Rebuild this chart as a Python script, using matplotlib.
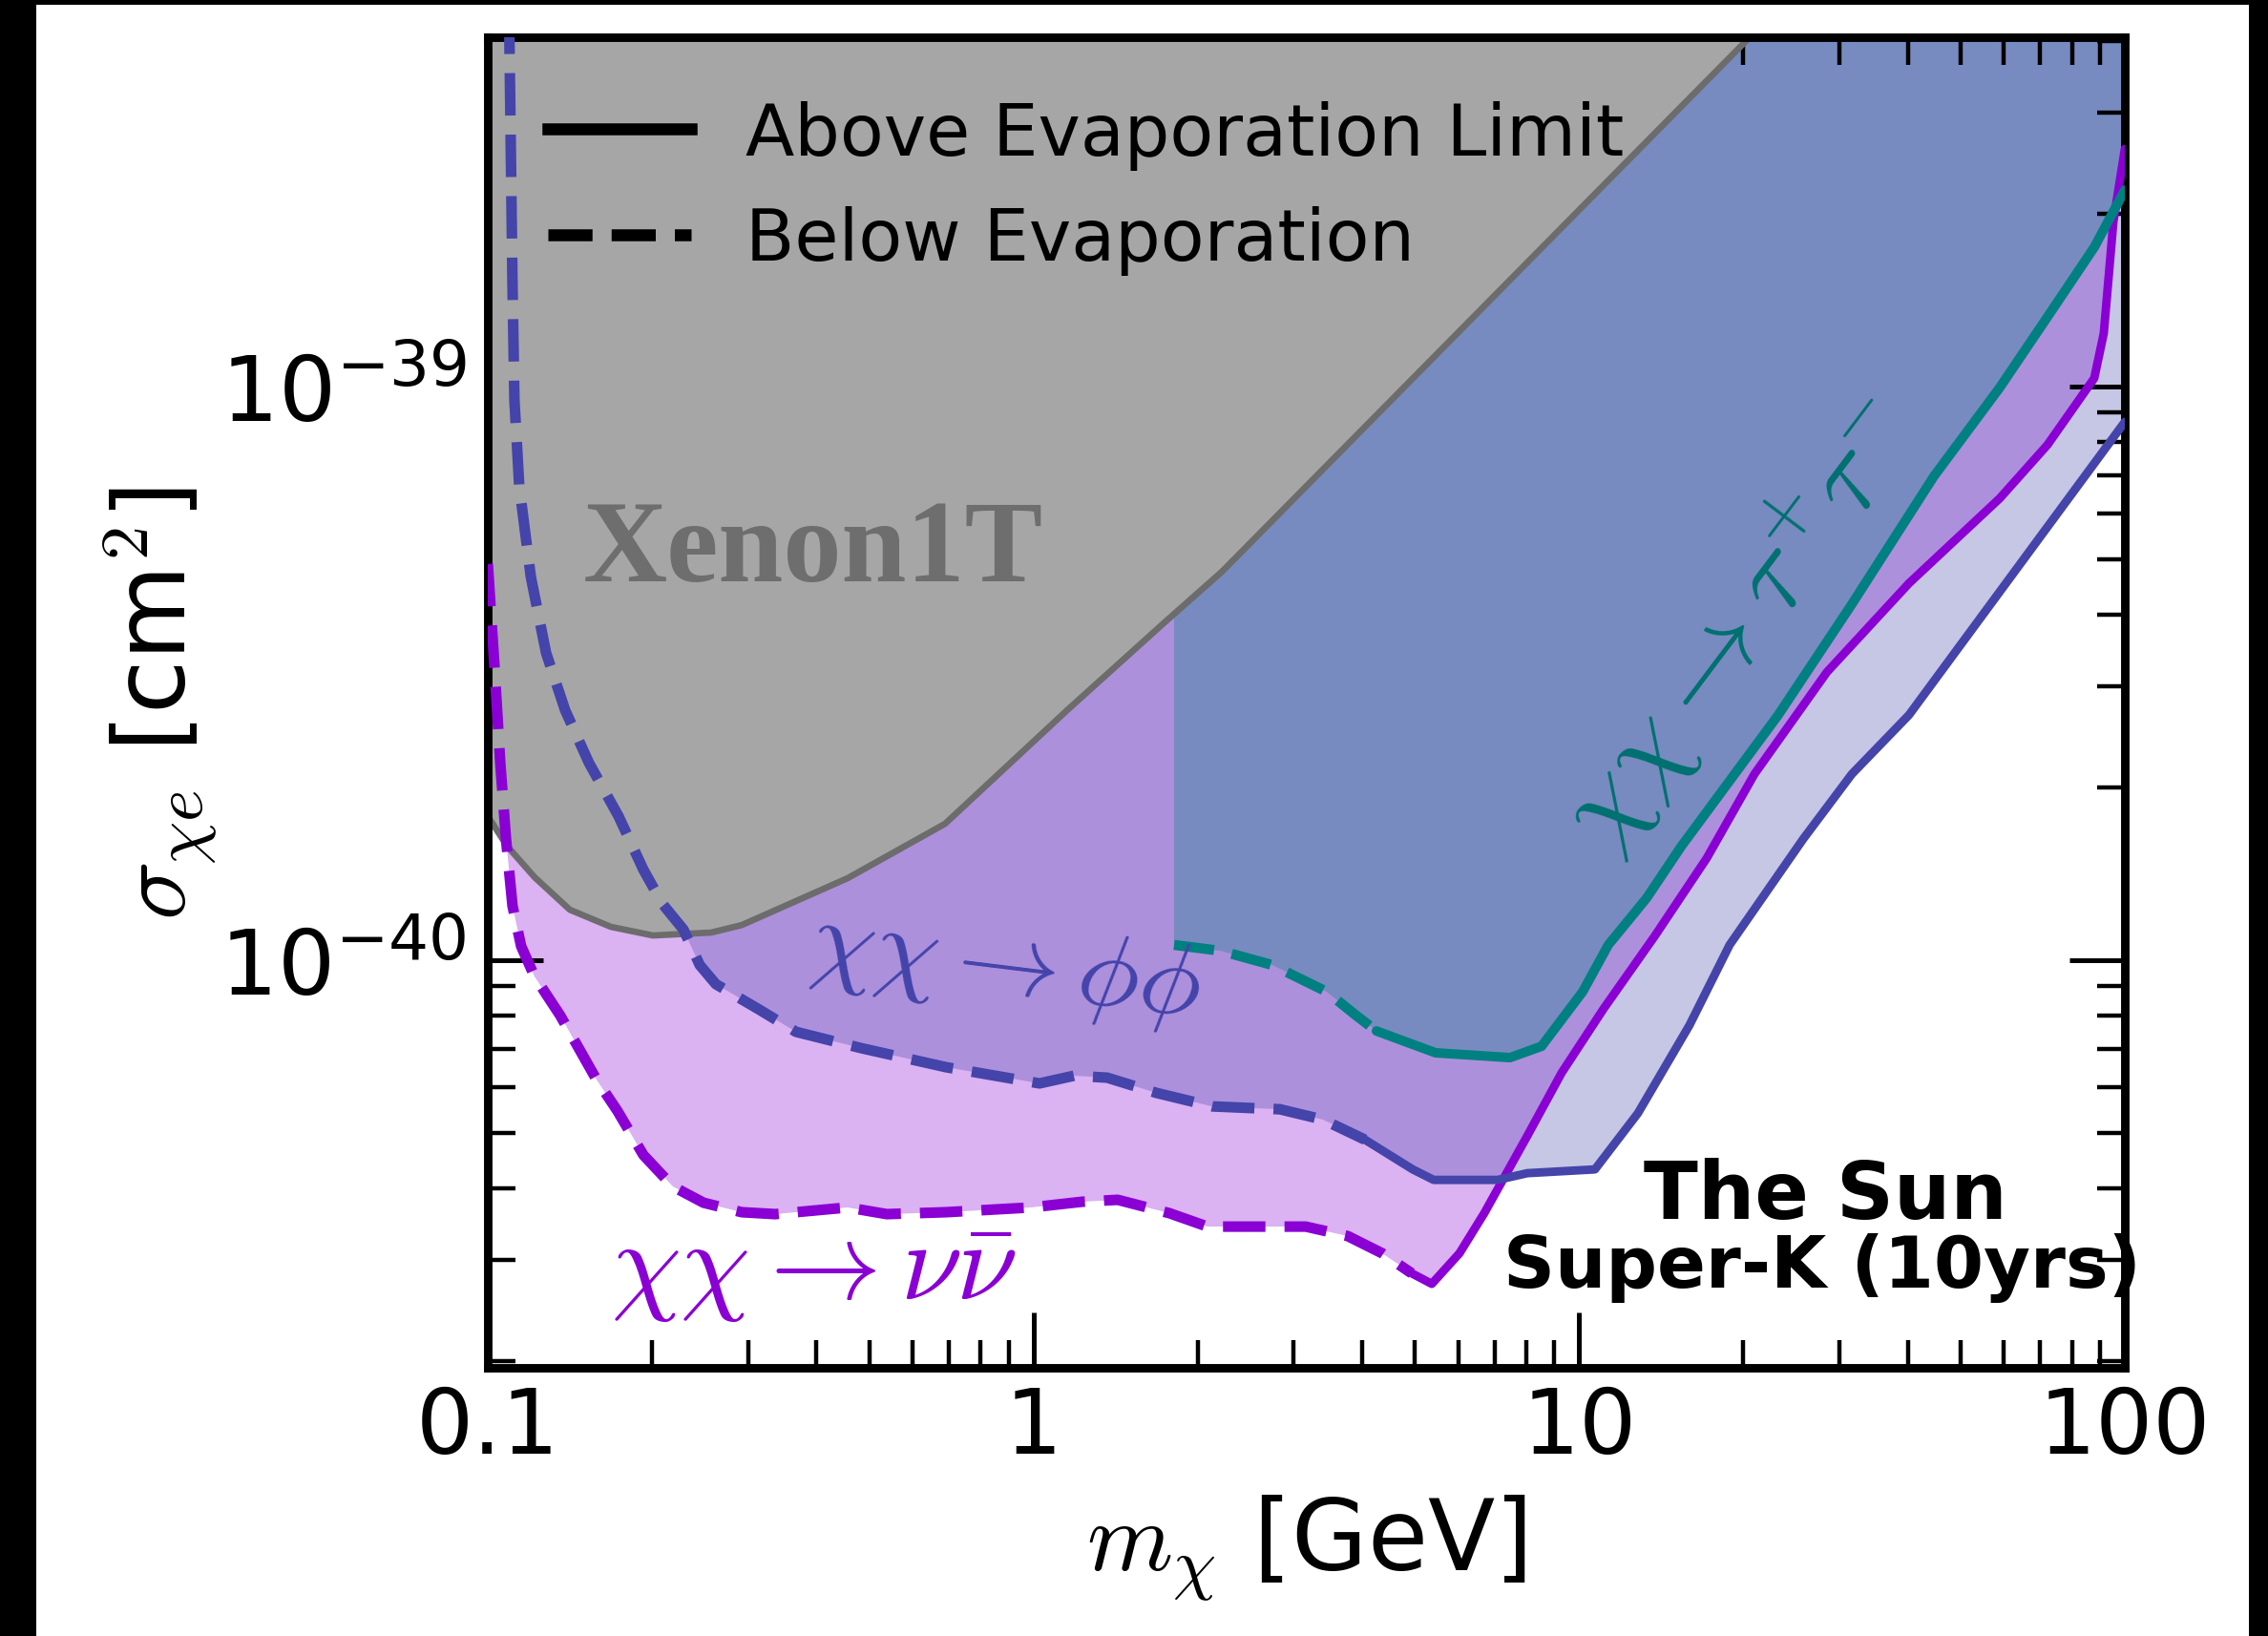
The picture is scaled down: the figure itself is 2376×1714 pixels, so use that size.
import numpy as np
import matplotlib.pyplot as plt
from matplotlib.patches import Rectangle
from matplotlib.ticker import NullFormatter

# dark matter mass [GeV] and cross section [1e-40 cm^2]
xenon_m = [0.1, 0.1084, 0.1218, 0.1414, 0.1681, 0.2007, 0.2566, 0.292, 0.4564,
           0.6886, 1.153, 1.739, 2.214, 20.53, 26.89]
xenon_s = [1.781, 1.581, 1.394, 1.223, 1.142, 1.103, 1.116, 1.150, 1.388,
           1.727, 2.725, 3.876, 4.749, 40.58, 52.67]

# chi chi -> nu nubar
nunu_m = [0.1, 0.1029, 0.1054, 0.1080, 0.1110, 0.1151, 0.1218, 0.1358, 0.1582,
          0.1729, 0.1928, 0.2184, 0.2485, 0.2920, 0.3362, 0.4564, 0.5385, 0.6913,
          0.9893, 1.229, 1.427, 1.774, 2.084, 3.155, 3.767, 4.355, 4.934, 5.370,
          6.035, 6.701, 8.035, 9.286, 11.08, 13.78, 17.13, 20.95, 28.45, 40.22,
          58.99, 72.15, 87.89, 91.5, 95.3, 100.0]
nunu_s = [4.9, 3.236, 2.207, 1.624, 1.242, 1.057, 0.9356, 0.7995, 0.6186,
          0.5450, 0.4570, 0.4027, 0.3773, 0.3632, 0.3604, 0.3702, 0.3604, 0.3632,
          0.3702, 0.3788, 0.3817, 0.3618, 0.3428, 0.3428, 0.3300, 0.3080, 0.2842,
          0.2724, 0.3080, 0.3618, 0.4934, 0.6353, 0.8213, 1.103, 1.504, 2.108,
          3.175, 4.535, 6.378, 7.905, 10.33, 12.37, 19.38, 25.92]
nunu_split = 4.934

# chi chi -> phi phi
phi_m = [0.1094, 0.1110, 0.1119, 0.1142, 0.1199, 0.1279, 0.1386, 0.1532, 0.1736,
         0.1928, 0.2090, 0.2284, 0.2446, 0.2618, 0.3152, 0.3673, 0.4830, 0.6913,
         1.026, 1.186, 1.365, 1.683, 2.126, 2.830, 3.393, 4.051, 4.955, 5.413,
         7.090, 8.035, 10.69, 12.82, 15.93, 18.87, 25.73, 31.60, 40.22, 84.42,
         100.0]
phi_s = [45.0, 14.99, 9.463, 6.705, 4.658, 3.429, 2.725, 2.207, 1.781,
         1.437, 1.252, 1.129, 0.9795, 0.9073, 0.8180, 0.7491, 0.7019, 0.6501,
         0.6091, 0.6281, 0.6233, 0.5861, 0.5554, 0.5490, 0.5267, 0.4859, 0.4313,
         0.4135, 0.4135, 0.4248, 0.4313, 0.5407, 0.7694, 1.062, 1.624, 2.108,
         2.673, 6.965, 8.667]
phi_split = 4.051

# chi chi -> tau+ tau-
tau_m = [1.810, 2.205, 2.741, 3.447, 3.906, 4.251, 5.457, 7.470, 8.533, 10.15,
         11.31, 13.29, 15.37, 23.17, 31.60, 44.67, 58.99, 72.15, 87.89, 100.0]
tau_s = [1.062, 1.037, 0.9795, 0.8800, 0.7995, 0.7518, 0.6887, 0.6755, 0.7070,
         0.8800, 1.062, 1.281, 1.575, 2.673, 4.169, 6.965, 9.947, 13.21, 17.47,
         21.98]
tau_split = 4.251

unit = 1e-40
top = 1e-37

c_nu = '#8a00d4'
c_phi = '#4444aa'
c_tau = '#008080'

W, H, DPI = 2376, 1715, 200
fig = plt.figure(figsize=(W / DPI, H / DPI), dpi=DPI, facecolor='black')
fig.patches.append(Rectangle((38 / W, 0), (2356 - 38) / W, 1 - 6 / H,
                             transform=fig.transFigure, facecolor='white',
                             edgecolor='none', zorder=-5))
ax = fig.add_axes([511 / W, 1 - 1434 / H, 1715 / W, 1394 / H])


def draw_channel(m, s, split, color, lw_d, lw_s):
    m = np.array(m)
    s = np.array(s) * unit
    ax.fill_between(m, s, top, color=color, alpha=0.3, lw=0, zorder=1)
    k = np.searchsorted(m, split)
    ax.plot(m[:k + 1], s[:k + 1], color=color, lw=lw_d,
            ls=(0, (4.0, 1.8)), zorder=3)
    ax.plot(m[k:], s[k:], color=color, lw=lw_s, zorder=3,
            solid_capstyle='round')


draw_channel(nunu_m, nunu_s, nunu_split, c_nu, 4.0, 3.2)
draw_channel(phi_m, phi_s, phi_split, c_phi, 4.0, 3.2)
draw_channel(tau_m, tau_s, tau_split, c_tau, 3.8, 3.6)

xm = np.array(xenon_m)
xs = np.array(xenon_s) * unit
ax.fill_between(xm, xs, top, color='#a6a6a6', lw=0, zorder=2)
ax.plot(xm, xs, color='#6c6c6c', lw=2.4, zorder=2.5)

ax.set_xscale('log')
ax.set_yscale('log')
ax.set_xlim(0.1, 100)
ax.set_ylim(1.945e-41, 4.06e-39)
ax.set_xticks([0.1, 1, 10, 100], labels=['0.1', '1', '10', '100'])
ax.set_yticks([1e-40, 1e-39])
ax.xaxis.set_minor_formatter(NullFormatter())
ax.yaxis.set_minor_formatter(NullFormatter())

ax.tick_params(which='both', direction='in', top=True, right=True)
ax.tick_params(which='major', length=21, width=1.8, labelsize=34)
ax.tick_params(which='minor', length=10.5, width=1.6)
ax.tick_params(axis='x', which='major', pad=6)
ax.tick_params(axis='y', which='major', pad=8)
for sp in ax.spines.values():
    sp.set_linewidth(3.2)

ax.set_xlabel(r'$m_\chi$ [GeV]', fontsize=37, math_fontfamily='cm', labelpad=8)
ax.set_ylabel(r'$\sigma_{\chi e}$ [cm$^2$]', fontsize=37, math_fontfamily='cm',
              labelpad=0)

# legend for line styles
ax.plot([], [], color='black', lw=4.5, label='Above Evaporation Limit')
ax.plot([], [], color='black', lw=4.5, ls='--', label='Below Evaporation')
ax.legend(loc='upper left', bbox_to_anchor=(0.037, 0.953), frameon=False,
          fontsize=27, borderpad=0, borderaxespad=0, labelspacing=0.5,
          handlelength=2.0, handletextpad=0.75)

ax.text(0.199, 0.613, 'Xenon1T', transform=ax.transAxes, ha='center',
        va='center', fontsize=44, fontweight='bold', family='Liberation Serif',
        color='#6e6e6e', zorder=4)
ax.text(0.316, 0.303, r'$\chi\chi \rightarrow \phi\phi$', transform=ax.transAxes,
        ha='center', va='center', fontsize=39, color=c_phi, rotation=-7,
        math_fontfamily='cm', zorder=4)
ax.text(0.199, 0.075, r'$\chi\chi \rightarrow \nu\bar{\nu}$',
        transform=ax.transAxes, ha='center', va='center', fontsize=42,
        color=c_nu, math_fontfamily='cm', zorder=4)
ax.text(0.765, 0.559, r'$\chi\chi \rightarrow \tau^{+}\tau^{-}$',
        transform=ax.transAxes, ha='center', va='center', fontsize=42,
        color='#007070', rotation=53, math_fontfamily='cm', zorder=4)
ax.text(0.817, 0.1126, 'The Sun', transform=ax.transAxes, ha='center',
        va='baseline', fontsize=30, fontweight='bold', zorder=4)
ax.text(0.815, 0.061, 'Super-K (10yrs)', transform=ax.transAxes, ha='center',
        va='baseline', fontsize=27, fontweight='bold', zorder=4)

fig.savefig('out.png', dpi=DPI)
